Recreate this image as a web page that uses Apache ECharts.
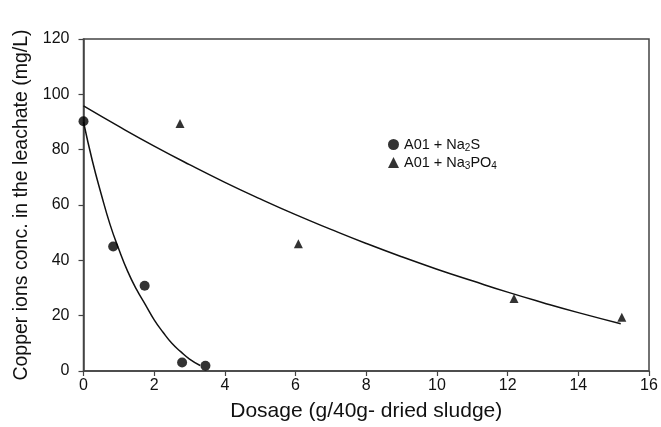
<!DOCTYPE html>
<html>
<head>
<meta charset="utf-8">
<script src="https://cdn.jsdelivr.net/npm/echarts@6/dist/echarts.min.js"></script>
<style>html,body{margin:0;padding:0;background:#fff}#c{width:661px;height:427px}</style>
</head>
<body>
<div id="c"></div>
<script>
// Measured points
const na2sX = [0, 0.84, 1.73, 2.79, 3.45];
const na2sY = [90.3, 45.0, 30.8, 3.1, 1.9];
const na3po4X = [2.73, 6.08, 12.18, 15.23];
const na3po4Y = [89.5, 46.0, 26.2, 19.4];
// Fitted curves
const fit1X = [0, 0.25, 0.5, 0.75, 1.0, 1.25, 1.5, 1.75, 2.0, 2.25, 2.5, 2.75, 3.0, 3.3];
const fit1Y = [90, 76, 64, 53, 44, 36, 29.5, 24, 18.5, 14, 10, 7, 4.3, 2];
const fit2X = [0, 1, 2, 3, 4, 5, 6, 7, 8, 9, 10, 11, 12, 13, 14, 15.2];
const fit2Y = [95.8, 88.4, 81.3, 74.6, 68.2, 62.2, 56.5, 51.2, 46.1, 41.3, 36.8, 32.6, 28.5, 24.7, 21.1, 17.1];
const xTicks = [0, 2, 4, 6, 8, 10, 12, 14, 16];
const yTicks = [0, 20, 40, 60, 80, 100, 120];

const zip = (xs, ys) => xs.map((x, i) => [x, ys[i]]);
const font = 'Liberation Sans, Arial, sans-serif';
const chart = echarts.init(document.getElementById('c'));
chart.setOption({
  animation: false,
  grid: { left: 83.5, right: 12, top: 39, bottom: 54, show: true, borderColor: '#444', borderWidth: 1.5, backgroundColor: 'transparent' },
  legend: {
    orient: 'vertical', left: 383, top: 132, itemWidth: 11, itemHeight: 11, itemGap: 2,
    data: [{ name: 'Na2S', icon: 'circle' }, { name: 'Na3PO4', icon: 'triangle' }],
    formatter: n => n === 'Na2S' ? '{n|A01 + Na}{s|2}{n|S}' : '{n|A01 + Na}{s|3}{n|PO}{s|4}',
    textStyle: {
      rich: {
        n: { fontFamily: font, fontSize: 14.5, color: '#111' },
        s: { fontFamily: font, fontSize: 10, color: '#111', padding: [7, 0, 0, 0] }
      }
    }
  },
  xAxis: {
    type: 'value', min: xTicks[0], max: xTicks[xTicks.length - 1], interval: 2,
    name: 'Dosage (g/40g- dried sludge)', nameLocation: 'middle', nameGap: 30,
    nameTextStyle: { fontFamily: font, fontSize: 21, color: '#111' },
    axisLine: { show: true, lineStyle: { color: '#444', width: 1.5 } },
    axisTick: { show: true, length: 5, lineStyle: { color: '#444', width: 1.2 } },
    axisLabel: { fontFamily: font, fontSize: 16, color: '#111', margin: 7 },
    splitLine: { show: false }
  },
  yAxis: {
    type: 'value', min: yTicks[0], max: yTicks[yTicks.length - 1], interval: 20,
    name: 'Copper ions conc. in the leachate (mg/L)', nameLocation: 'middle', nameGap: 52,
    nameTextStyle: { fontFamily: font, fontSize: 19.5, color: '#111' },
    axisLine: { show: true, lineStyle: { color: '#444', width: 1.5 } },
    axisTick: { show: true, length: 5, lineStyle: { color: '#444', width: 1.2 } },
    axisLabel: { fontFamily: font, fontSize: 16, color: '#111', margin: 14 },
    splitLine: { show: false }
  },
  series: [
    { name: 'fit1', type: 'line', data: zip(fit1X, fit1Y), smooth: true, showSymbol: false, symbol: 'none',
      lineStyle: { color: '#111', width: 1.5 }, z: 2 },
    { name: 'fit2', type: 'line', data: zip(fit2X, fit2Y), smooth: true, showSymbol: false, symbol: 'none',
      lineStyle: { color: '#111', width: 1.5 }, z: 2 },
    { name: 'Na2S', type: 'scatter', data: zip(na2sX, na2sY), symbol: 'circle', symbolSize: 10,
      itemStyle: { color: '#000' }, z: 3 },
    { name: 'Na3PO4', type: 'scatter', data: zip(na3po4X, na3po4Y), symbol: 'triangle', symbolSize: 9,
      itemStyle: { color: '#000' }, z: 3 }
  ]
});
</script>
</body>
</html>
